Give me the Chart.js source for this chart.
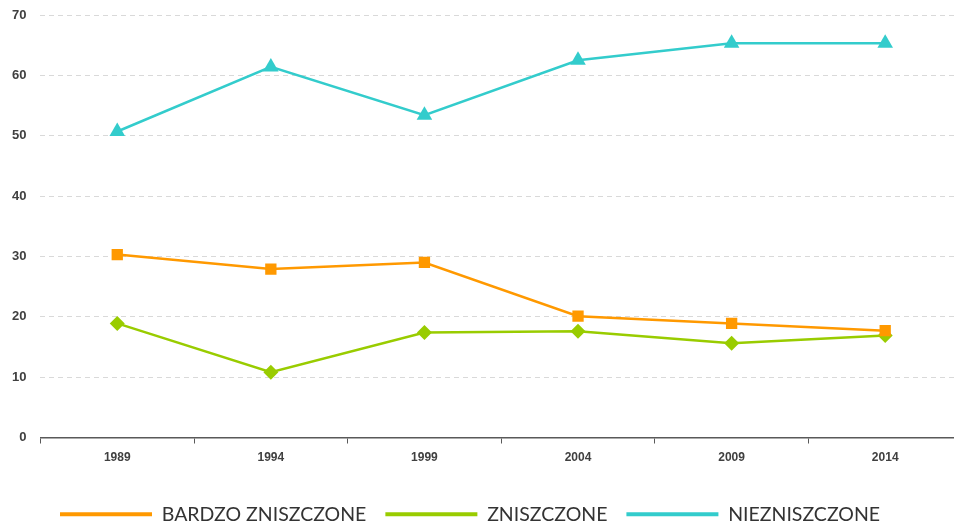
<!DOCTYPE html>
<html>
<head>
<meta charset="utf-8">
<script src="https://cdn.jsdelivr.net/npm/chart.js@4"></script>
<style>
  html, body { margin: 0; padding: 0; background: #fff; overflow: hidden; }
  #wrap { width: 962px; height: 526px; }
</style>
</head>
<body>
<div id="wrap"><canvas id="chart" width="962" height="526"></canvas></div>
<script>
const years = ['1989', '1994', '1999', '2004', '2009', '2014']
const bardzo = [30.3, 27.9, 29.0, 20.1, 18.9, 17.7]
const zniszczone = [18.9, 10.8, 17.4, 17.6, 15.6, 16.9]
const nie = [50.7, 61.4, 53.4, 62.5, 65.3, 65.3]
const yTicks = [0, 10, 20, 30, 40, 50, 60, 70]

const series = (label, data, color, pointStyle, radius) => ({
    label: label,
    data: data,
    borderColor: color,
    backgroundColor: color,
    borderWidth: 2.5,
    pointStyle: pointStyle,
    pointRadius: radius,
    pointHoverRadius: radius,
    pointBackgroundColor: color,
    pointBorderColor: color,
    pointBorderWidth: 0,
    tension: 0
})

// nudge the legend row to the right, like the original
const legendShift = {
    id: 'legendShift',
    afterLayout: chart => {
        chart.legend.left += 32
        chart.legend.right += 32
    }
}

new Chart('chart', {
    type: 'line',
    data: {
        labels: years,
        datasets: [
            series('BARDZO ZNISZCZONE', bardzo, '#ff9900', 'rect', 8),
            series('ZNISZCZONE', zniszczone, '#99cc00', 'rectRot', 7.5),
            series('NIEZNISZCZONE', nie, '#33cccc', 'triangle', 9)
        ]
    },
    plugins: [legendShift],
    options: {
        responsive: false,
        animation: false,
        layout: { autoPadding: false, padding: { left: 9, top: 15, right: 0, bottom: -8 } },
        plugins: {
            tooltip: { enabled: false },
            legend: {
                position: 'bottom',
                align: 'start',
                labels: {
                    boxWidth: 92,
                    boxHeight: 4,
                    padding: 19,
                    color: '#333',
                    font: { family: 'Lato', size: 19.5 },
                    generateLabels: chart => chart.data.datasets.map((ds, i) => ({
                        text: ds.label,
                        fillStyle: ds.borderColor,
                        strokeStyle: ds.borderColor,
                        lineWidth: 0,
                        fontColor: '#333',
                        datasetIndex: i
                    }))
                }
            }
        },
        scales: {
            x: {
                offset: true,
                afterFit: axis => { axis.height = 48 },
                grid: { offset: true, drawOnChartArea: false, drawTicks: true, tickLength: 6, color: '#595959' },
                border: { display: true, color: '#595959', width: 1.5 },
                ticks: { color: '#404040', font: { family: 'Arial', size: 12, weight: 'bold' }, padding: 7 }
            },
            y: {
                min: 0,
                max: 70,
                afterBuildTicks: axis => { axis.ticks = yTicks.map(v => ({ value: v })) },
                grid: { color: '#d9d9d9', drawTicks: true, tickLength: 11, tickColor: 'rgba(0,0,0,0)' },
                border: { display: false, dash: [5, 4] },
                ticks: { color: '#404040', font: { family: 'Arial', size: 13, weight: 'bold' }, padding: 3 }
            }
        }
    }
})
</script>
</body>
</html>
